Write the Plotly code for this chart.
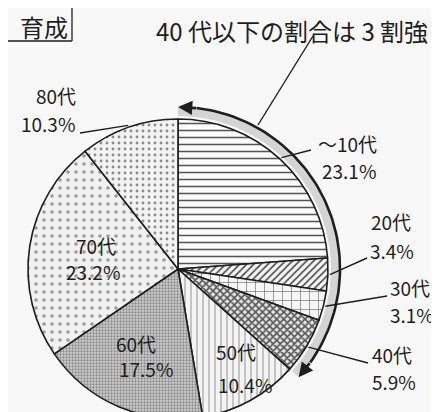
import math
import plotly.graph_objects as go

# ---------------- data ----------------
labels = ["～10代", "20代", "30代", "40代", "50代", "60代", "70代", "80代"]
shares = [23.1, 3.4, 3.1, 5.9, 10.4, 17.5, 23.2, 10.3]
share_text = ["23.1%", "3.4%", "3.1%", "5.9%", "10.4%", "17.5%", "23.2%", "10.3%"]
title_text = "40 代以下の割合は 3 割強"
header_text = "育成"
under40_groups = 4  # ～10代 .. 40代

# ---------------- layout / style ----------------
W, H = 439, 412
CX, CY, R = 170, 261, 150
FONT = "Noto Sans CJK JP"
INK = "#1e1e1e"
BG = "#f8f8f8"

patterns = [
    dict(shape="-", fgcolor="#555", bgcolor="#fbfbfb", size=7, solidity=0.22),
    dict(shape="/", fgcolor="#444", bgcolor="#f4f4f4", size=5, solidity=0.3),
    dict(shape="+", fgcolor="#555", bgcolor="#f6f6f6", size=9, solidity=0.12),
    dict(shape="x", fgcolor="#555", bgcolor="#e4e4e4", size=5, solidity=0.55),
    dict(shape="|", fgcolor="#888", bgcolor="#f4f4f4", size=6, solidity=0.15),
    dict(shape=".", fgcolor="#8a8a8a", bgcolor="#d0d0d0", size=3, solidity=0.45),
    dict(shape=".", fgcolor="#9a9a9a", bgcolor="#f1f1f1", size=8, solidity=0.16),
    dict(shape=".", fgcolor="#8c8c8c", bgcolor="#f3f3f3", size=6, solidity=0.18),
]

# label placement, pixels: (age-line x, y), (share-line x, y), anchor
label_pos = {
    0: ((308, 135), (312, 162), "left"),
    1: ((361, 213), (360, 242), "left"),
    2: ((380, 279), (380, 306), "left"),
    3: ((362, 346), (362, 373), "left"),
    4: ((228, 343), (237, 376), "center"),
    5: ((128, 335), (138, 360), "center"),
    6: ((88, 237), (85, 263), "center"),
    7: ((70, 87), (69, 115), "right"),
}
# leader line start (label side), pixels
leader_start = {0: (303, 142), 1: (359, 250), 2: (379, 288), 3: (360, 355), 7: (72, 125)}
title_pos = (284, 22)
title_leader = [(305, 28), (250, 117)]

total = sum(shares)
cum = [0.0]
for s in shares:
    cum.append(cum[-1] + s)


def ang(v):
    return v / total * 2 * math.pi


def pt(theta, r):
    return CX + r * math.sin(theta), CY - r * math.cos(theta)


fig = go.Figure()

# pie
fig.add_trace(go.Pie(
    labels=labels, values=shares, sort=False, direction="clockwise", rotation=0,
    textinfo="none", hoverinfo="skip", showlegend=False,
    marker=dict(colors=[p["bgcolor"] for p in patterns],
                line=dict(color=INK, width=1.6),
                pattern=dict(shape=[p["shape"] for p in patterns],
                             fgcolor=[p["fgcolor"] for p in patterns],
                             bgcolor=[p["bgcolor"] for p in patterns],
                             size=[p["size"] for p in patterns],
                             solidity=[p["solidity"] for p in patterns],
                             fillmode="replace")),
    domain=dict(x=[(CX - R) / W, (CX + R) / W], y=[1 - (CY + R) / H, 1 - (CY - R) / H]),
))

# band arc for "40代以下"
t0, t1 = 0.0, ang(cum[under40_groups])
n = 80
ts = [t0 + (t1 - t0) * i / n for i in range(n + 1)]
inner = [pt(t, R + 3) for t in ts]
outer = [pt(t, R + 11) for t in ts]
poly = outer + inner[::-1]
fig.add_trace(go.Scatter(x=[p[0] for p in poly], y=[p[1] for p in poly], fill="toself",
                         fillcolor="#d4d4d4", line=dict(width=0), mode="lines",
                         hoverinfo="skip", showlegend=False))
ts2 = [t for t in ts if math.radians(5) <= t <= t1 - math.radians(5)]
line_pts = [pt(t, R + 12) for t in ts2]
fig.add_trace(go.Scatter(x=[p[0] for p in line_pts], y=[p[1] for p in line_pts],
                         mode="lines", line=dict(color=INK, width=2.6),
                         hoverinfo="skip", showlegend=False))

# leader lines
for i, (sx, sy) in leader_start.items():
    mid = ang((cum[i] + cum[i + 1]) / 2)
    ex, ey = pt(mid, R + 2)
    fig.add_trace(go.Scatter(x=[sx, ex], y=[sy, ey], mode="lines",
                             line=dict(color=INK, width=1.4),
                             hoverinfo="skip", showlegend=False))
fig.add_trace(go.Scatter(x=[p[0] for p in title_leader], y=[p[1] for p in title_leader],
                         mode="lines", line=dict(color=INK, width=1.4),
                         hoverinfo="skip", showlegend=False))

annotations = []
# arrowheads
for tip, back in [(pt(t0, R + 12), pt(math.radians(7), R + 12)),
                  (pt(t1, R + 12), pt(t1 - math.radians(7), R + 12))]:
    annotations.append(dict(x=tip[0], y=tip[1], ax=back[0], ay=back[1], xref="x", yref="y",
                            axref="x", ayref="y", text="", showarrow=True, arrowhead=2,
                            arrowsize=1.1, arrowwidth=2.6, arrowcolor=INK))
# slice labels (two lines each)
for i, (p1, p2, xa) in label_pos.items():
    for (x, y), txt in [(p1, labels[i]), (p2, share_text[i])]:
        annotations.append(dict(x=x, y=y, xref="x", yref="y", xanchor=xa, yanchor="middle",
                                showarrow=False, text=txt,
                                font=dict(family=FONT, size=19, color=INK)))
# title
annotations.append(dict(x=title_pos[0], y=title_pos[1], xref="x", yref="y", xanchor="center",
                        yanchor="middle", showarrow=False, text=title_text,
                        font=dict(family=FONT, size=24, color=INK)))
# header
annotations.append(dict(x=62, y=18, xref="x", yref="y", xanchor="right", yanchor="middle",
                        showarrow=False, text=header_text,
                        font=dict(family=FONT, size=24, color=INK)))

shapes = [
    dict(type="line", xref="x", yref="y", x0=64, x1=64, y0=0, y1=33,
         line=dict(color=INK, width=1.3)),
    dict(type="line", xref="x", yref="y", x0=0, x1=64, y0=33, y1=33,
         line=dict(color=INK, width=1.3)),
]

fig.update_layout(
    width=W, height=H, margin=dict(l=0, r=0, t=0, b=0),
    paper_bgcolor=BG, plot_bgcolor="rgba(0,0,0,0)",
    xaxis=dict(range=[0, W], visible=False, fixedrange=True, domain=[0, 1]),
    yaxis=dict(range=[H, 0], visible=False, fixedrange=True, domain=[0, 1]),
    annotations=annotations, shapes=shapes, showlegend=False,
)

fig.write_html("out.html")
